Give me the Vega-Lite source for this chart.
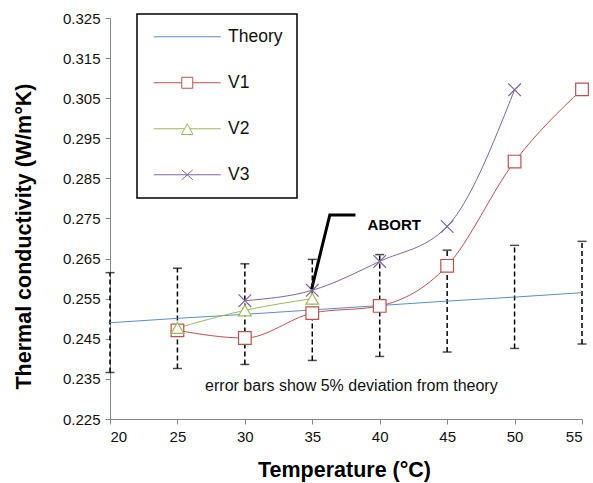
{
  "$schema": "https://vega.github.io/schema/vega-lite/v6.json",
  "autosize": {"type": "none"},
  "width": 472,
  "height": 401,
  "padding": {"left": 110, "top": 18, "right": 11, "bottom": 64},
  "background": "white",
  "config": {
    "view": {"stroke": null},
    "font": "Liberation Sans",
    "axis": {"grid": false, "domainColor": "#868686", "tickColor": "#868686", "tickSize": 5, "labelFont": "Liberation Sans", "labelFontSize": 15, "labelColor": "#111", "titleFont": "Liberation Sans", "titleFontSize": 21.5, "titleFontWeight": "bold", "titleColor": "#000"},
    "legend": {
      "orient": "none", "legendX": 27, "legendY": -4,
      "strokeColor": "black", "padding": 14,
      "symbolSize": 100, "symbolOffset": 27.5, "labelOffset": 32,
      "rowPadding": 27, "labelFontSize": 17.5, "labelFont": "Liberation Sans", "labelColor": "#111",
      "symbolStrokeWidth": 1
    }
  },
  "datasets": {
    "series": [
      {"T": 20, "series": "Theory", "k": 0.2490},
      {"T": 25, "series": "Theory", "k": 0.2501},
      {"T": 30, "series": "Theory", "k": 0.2511},
      {"T": 35, "series": "Theory", "k": 0.2522},
      {"T": 40, "series": "Theory", "k": 0.2533},
      {"T": 45, "series": "Theory", "k": 0.2544},
      {"T": 50, "series": "Theory", "k": 0.2554},
      {"T": 55, "series": "Theory", "k": 0.2565},
      {"T": 25, "series": "V1", "k": 0.2471},
      {"T": 30, "series": "V1", "k": 0.2452},
      {"T": 35, "series": "V1", "k": 0.2514},
      {"T": 40, "series": "V1", "k": 0.2532},
      {"T": 45, "series": "V1", "k": 0.2632},
      {"T": 50, "series": "V1", "k": 0.2892},
      {"T": 55, "series": "V1", "k": 0.3072},
      {"T": 25, "series": "V2", "k": 0.2477},
      {"T": 30, "series": "V2", "k": 0.2521},
      {"T": 35, "series": "V2", "k": 0.2550},
      {"T": 30, "series": "V3", "k": 0.2545},
      {"T": 35, "series": "V3", "k": 0.2571},
      {"T": 40, "series": "V3", "k": 0.2643},
      {"T": 45, "series": "V3", "k": 0.2730},
      {"T": 50, "series": "V3", "k": 0.3071}
    ],
    "err": [
      {"T": 20, "lo": 0.2366, "hi": 0.2615},
      {"T": 25, "lo": 0.2376, "hi": 0.2626},
      {"T": 30, "lo": 0.2386, "hi": 0.2637},
      {"T": 35, "lo": 0.2396, "hi": 0.2648},
      {"T": 40, "lo": 0.2406, "hi": 0.2660},
      {"T": 45, "lo": 0.2417, "hi": 0.2671},
      {"T": 50, "lo": 0.2426, "hi": 0.2683},
      {"T": 55, "lo": 0.2437, "hi": 0.2693}
    ],
    "abort": [
      {"i": 0, "T": 34.95, "k": 0.2574},
      {"i": 1, "T": 36.3, "k": 0.2759},
      {"i": 2, "T": 38.2, "k": 0.2759}
    ],
    "notes": [
      {"T": 39.1, "k": 0.2733, "text": "ABORT", "kind": "abort"},
      {"T": 37.9, "k": 0.2333, "text": "error bars show 5% deviation from theory", "kind": "note"}
    ]
  },
  "encoding": {
    "x": {"field": "T", "type": "quantitative", "scale": {"domain": [20, 55], "nice": false, "zero": false},
          "axis": {"values": [20, 25, 30, 35, 40, 45, 50, 55], "title": "Temperature (°C)", "labelPadding": 5, "titleX": 234, "titleY": 57, "titleBaseline": "alphabetic", "titleAnchor": null}},
    "y": {"field": "k", "type": "quantitative", "scale": {"domain": [0.225, 0.325], "nice": false, "zero": false},
          "axis": {"values": [0.225, 0.235, 0.245, 0.255, 0.265, 0.275, 0.285, 0.295, 0.305, 0.315, 0.325], "format": ".3f", "title": "Thermal conductivity  (W/m°K)", "labelPadding": 5, "titleAngle": 270, "titleX": -80, "titleY": 218, "titleBaseline": "alphabetic", "titleAlign": "center", "titleAnchor": null}}
  },
  "layer": [
    {
      "data": {"name": "err"},
      "mark": {"type": "rule", "color": "black", "strokeWidth": 1.5, "strokeDash": [5, 3]},
      "encoding": {"y": {"field": "lo", "type": "quantitative"}, "y2": {"field": "hi"}}
    },
    {
      "data": {"name": "err"},
      "transform": [{"fold": ["lo", "hi"], "as": ["bound", "kv"]}],
      "mark": {"type": "tick", "orient": "horizontal", "color": "black", "size": 9, "thickness": 1.5},
      "encoding": {"y": {"field": "kv", "type": "quantitative"}}
    },
    {
      "data": {"name": "series"},
      "mark": {"type": "line", "interpolate": "monotone", "strokeWidth": 1},
      "encoding": {
        "color": {"field": "series", "type": "nominal",
          "scale": {"domain": ["Theory", "V1", "V2", "V3"], "range": ["#5b8dcb", "#c0504d", "#9bbb59", "#8064a2"]},
          "legend": {"title": null,
            "encode": {
              "legend": {"update": {"strokeWidth": {"value": 1.5}}},
              "symbols": {"update": {
                "fill": {"value": "white"},
                "shape": {"signal": "datum.value === 'Theory' ? 'M-6.7,0H6.7' : datum.value === 'V1' ? 'M-6.7,0H-1.1M1.1,0H6.7M-1.1,-1.1H1.1V1.1H-1.1Z' : datum.value === 'V2' ? 'M-6.7,0H-0.55M0.55,0H6.7M0,-1L1.15,1.15L-1.15,1.15Z' : 'M-6.7,0H6.7M-1.1,-1L1.1,1M-1.1,1L1.1,-1'"}
              }}
            }}
        },
        "detail": {"field": "series"}
      }
    },
    {
      "data": {"name": "series"},
      "transform": [{"filter": "datum.series !== 'Theory'"}],
      "mark": {"type": "point", "filled": false, "fill": "white", "strokeWidth": 1.2, "size": 160, "opacity": 1},
      "encoding": {
        "color": {"field": "series", "type": "nominal", "legend": null},
        "shape": {"field": "series", "type": "nominal", "legend": null,
          "scale": {"domain": ["V1", "V2", "V3"], "range": ["square", "triangle-up", "M-1,-1L1,1M-1,1L1,-1"]}}
      }
    },
    {
      "data": {"name": "abort"},
      "mark": {"type": "line", "color": "black", "strokeWidth": 3},
      "encoding": {"order": {"field": "i", "type": "quantitative"}}
    },
    {
      "data": {"name": "notes"},
      "transform": [{"filter": "datum.kind === 'abort'"}],
      "mark": {"type": "text", "align": "left", "baseline": "middle", "fontSize": 15, "fontWeight": "bold", "font": "Liberation Sans", "color": "#000"},
      "encoding": {"text": {"field": "text"}}
    },
    {
      "data": {"name": "notes"},
      "transform": [{"filter": "datum.kind === 'note'"}],
      "mark": {"type": "text", "align": "center", "baseline": "middle", "fontSize": 16, "font": "Liberation Sans", "color": "#111"},
      "encoding": {"text": {"field": "text"}}
    }
  ]
}
